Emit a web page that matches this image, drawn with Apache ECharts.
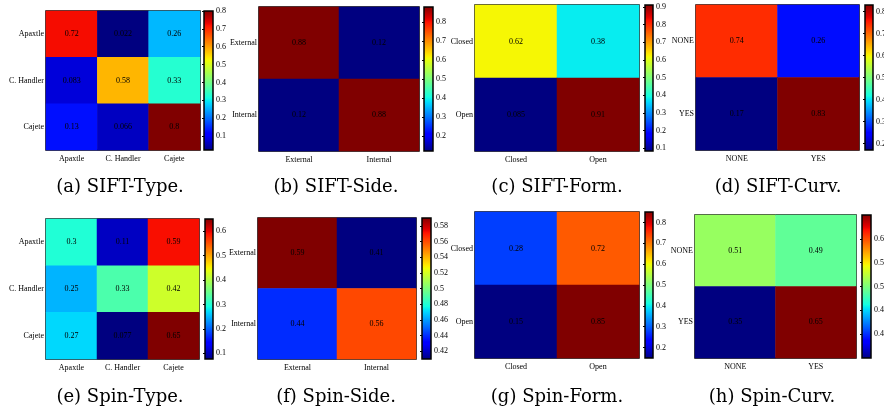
<!DOCTYPE html>
<html>
<head>
<meta charset="utf-8">
<script src="https://cdn.jsdelivr.net/npm/echarts@6/dist/echarts.min.js"></script>
<style>
  html, body { margin: 0; padding: 0; background: #fff; }
  #main { width: 884px; height: 416px; }
</style>
</head>
<body>
<div id="main"></div>
<script>
// categories
const typeCats = ['Apaxtle', 'C. Handler', 'Cajete'];
const sideCats = ['External', 'Internal'];
const formCats = ['Closed', 'Open'];
const curvCats = ['NONE', 'YES'];

// confusion matrices (rows = true class, cols = predicted)
const siftType = [[0.72, 0.022, 0.26], [0.083, 0.58, 0.33], [0.13, 0.066, 0.8]];
const siftSide = [[0.88, 0.12], [0.12, 0.88]];
const siftForm = [[0.62, 0.38], [0.085, 0.91]];
const siftCurv = [[0.74, 0.26], [0.17, 0.83]];
const spinType = [[0.3, 0.11, 0.59], [0.25, 0.33, 0.42], [0.27, 0.077, 0.65]];
const spinSide = [[0.59, 0.41], [0.44, 0.56]];
const spinForm = [[0.28, 0.72], [0.15, 0.85]];
const spinCurv = [[0.51, 0.49], [0.35, 0.65]];

// colorbar tick labels
const siftTypeTicks = [0.1, 0.2, 0.3, 0.4, 0.5, 0.6, 0.7, 0.8];
const siftSideTicks = [0.2, 0.3, 0.4, 0.5, 0.6, 0.7, 0.8];
const siftFormTicks = [0.1, 0.2, 0.3, 0.4, 0.5, 0.6, 0.7, 0.8, 0.9];
const siftCurvTicks = [0.2, 0.3, 0.4, 0.5, 0.6, 0.7, 0.8];
const spinTypeTicks = [0.1, 0.2, 0.3, 0.4, 0.5, 0.6];
const spinSideTicks = [0.42, 0.44, 0.46, 0.48, 0.5, 0.52, 0.54, 0.56, 0.58];
const spinFormTicks = [0.2, 0.3, 0.4, 0.5, 0.6, 0.7, 0.8];
const spinCurvTicks = [0.4, 0.45, 0.5, 0.55, 0.6];

const captions = ['(a) SIFT-Type.', '(b) SIFT-Side.', '(c) SIFT-Form.', '(d) SIFT-Curv.',
                  '(e) Spin-Type.', '(f) Spin-Side.', '(g) Spin-Form.', '(h) Spin-Curv.'];

const panels = [
  { cats: typeCats, vals: siftType, ticks: siftTypeTicks },
  { cats: sideCats, vals: siftSide, ticks: siftSideTicks },
  { cats: formCats, vals: siftForm, ticks: siftFormTicks },
  { cats: curvCats, vals: siftCurv, ticks: siftCurvTicks },
  { cats: typeCats, vals: spinType, ticks: spinTypeTicks },
  { cats: sideCats, vals: spinSide, ticks: spinSideTicks },
  { cats: formCats, vals: spinForm, ticks: spinFormTicks },
  { cats: curvCats, vals: spinCurv, ticks: spinCurvTicks }
];

// [heat left, top, width, height, colorbar left, colorbar width, caption x, caption y]
const layout = [
  [46, 11, 154, 139, 204, 9, 120, 187],
  [259, 7, 160, 144, 424, 9, 336, 187],
  [475, 5, 164, 146, 645, 8, 557, 187],
  [696, 5, 163, 145, 865, 8, 778, 187],
  [46, 219, 153, 140, 205, 8, 120, 397],
  [258, 218, 158, 141, 422, 9, 336, 397],
  [475, 212, 164, 146, 645, 8, 557, 397],
  [695, 215, 161, 143, 862, 9, 772, 397]
];

// matplotlib "jet"
function interp(t, pts) {
  for (let i = 1; i < pts.length; i++) {
    if (t <= pts[i][0]) {
      const a = pts[i - 1], b = pts[i];
      return a[1] + (b[1] - a[1]) * (t - a[0]) / (b[0] - a[0]);
    }
  }
  return pts[pts.length - 1][1];
}
function jet(t) {
  const r = interp(t, [[0, 0], [0.35, 0], [0.66, 1], [0.89, 1], [1, 0.5]]);
  const g = interp(t, [[0, 0], [0.125, 0], [0.375, 1], [0.64, 1], [0.91, 0], [1, 0]]);
  const b = interp(t, [[0, 0.5], [0.11, 1], [0.34, 1], [0.65, 0], [1, 0]]);
  return 'rgb(' + Math.round(r * 255) + ',' + Math.round(g * 255) + ',' + Math.round(b * 255) + ')';
}
const jetColors = [];
for (let i = 0; i <= 64; i++) jetColors.push(jet(i / 64));
const barStops = [];
for (let i = 0; i <= 64; i++) barStops.push({ offset: i / 64, color: jet(1 - i / 64) });

const serif = "'Liberation Serif', 'DejaVu Serif', serif";
const grids = [], xAxes = [], yAxes = [], series = [], visualMaps = [], graphics = [];

panels.forEach(function (p, i) {
  const L = layout[i];
  const flat = [].concat.apply([], p.vals);
  const vmin = Math.min.apply(null, flat), vmax = Math.max.apply(null, flat);
  const data = [];
  p.vals.forEach(function (row, r) {
    row.forEach(function (v, c) { data.push([c, r, v]); });
  });

  // heatmap grid
  const gi = grids.length;
  grids.push({ left: L[0], top: L[1], width: L[2], height: L[3], show: true,
               outerBoundsMode: 'none',
               borderColor: '#000', borderWidth: 1.5, backgroundColor: 'transparent' });
  const tickStyle = { show: true, inside: true, length: 3, alignWithLabel: true,
                      lineStyle: { color: '#000', width: 1 } };
  const xi = xAxes.length;
  xAxes.push({ type: 'category', gridIndex: gi, data: p.cats, position: 'bottom',
               axisLine: { show: false }, axisTick: tickStyle, splitLine: { show: false },
               axisLabel: { color: '#000', fontSize: 8, fontFamily: serif, margin: 5 } });
  xAxes.push({ type: 'category', gridIndex: gi, data: p.cats, position: 'top',
               axisLine: { show: false }, axisTick: tickStyle, axisLabel: { show: false } });
  const yi = yAxes.length;
  yAxes.push({ type: 'category', gridIndex: gi, data: p.cats, inverse: true, position: 'left',
               axisLine: { show: false }, axisTick: tickStyle, splitLine: { show: false },
               axisLabel: { color: '#000', fontSize: 8, fontFamily: serif, margin: 2 } });
  yAxes.push({ type: 'category', gridIndex: gi, data: p.cats, inverse: true, position: 'right',
               axisLine: { show: false }, axisTick: tickStyle, axisLabel: { show: false } });

  series.push({
    type: 'heatmap', xAxisIndex: xi, yAxisIndex: yi, data: data,
    label: { show: true, color: '#000', fontSize: 8, fontFamily: serif,
             formatter: function (q) { return String(q.data[2]); } },
    itemStyle: { borderWidth: 0 },
    emphasis: { disabled: true }
  });
  visualMaps.push({ type: 'continuous', show: false, seriesIndex: series.length - 1,
                    dimension: 2, min: vmin, max: vmax, inRange: { color: jetColors } });

  // colorbar grid
  const ci = grids.length;
  grids.push({ left: L[4], top: L[1], width: L[5], height: L[3], show: true,
               outerBoundsMode: 'none',
               borderColor: '#000', borderWidth: 1.5,
               backgroundColor: new echarts.graphic.LinearGradient(0, 0, 0, 1, barStops) });
  xAxes.push({ type: 'value', gridIndex: ci, show: false, min: 0, max: 1 });
  yAxes.push({ type: 'value', gridIndex: ci, position: 'right', min: vmin, max: vmax,
               axisLine: { show: false }, splitLine: { show: false },
               axisTick: { show: true, inside: true, length: 2, customValues: p.ticks,
                           lineStyle: { color: '#000' } },
               axisLabel: { color: '#000', fontSize: 8, fontFamily: serif, margin: 3,
                            customValues: p.ticks,
                            formatter: function (v) { return String(+(+v).toFixed(2)); } } });

  graphics.push({ type: 'text', x: L[6], y: L[7],
                  style: { text: captions[i], fill: '#000', fontSize: 18,
                           fontFamily: "'DejaVu Serif', serif",
                           align: 'center', verticalAlign: 'middle' } });
});

const chart = echarts.init(document.getElementById('main'), null, { renderer: 'canvas' });
chart.setOption({
  backgroundColor: '#fff',
  animation: false,
  grid: grids,
  xAxis: xAxes,
  yAxis: yAxes,
  visualMap: visualMaps,
  series: series,
  graphic: graphics
});
</script>
</body>
</html>
